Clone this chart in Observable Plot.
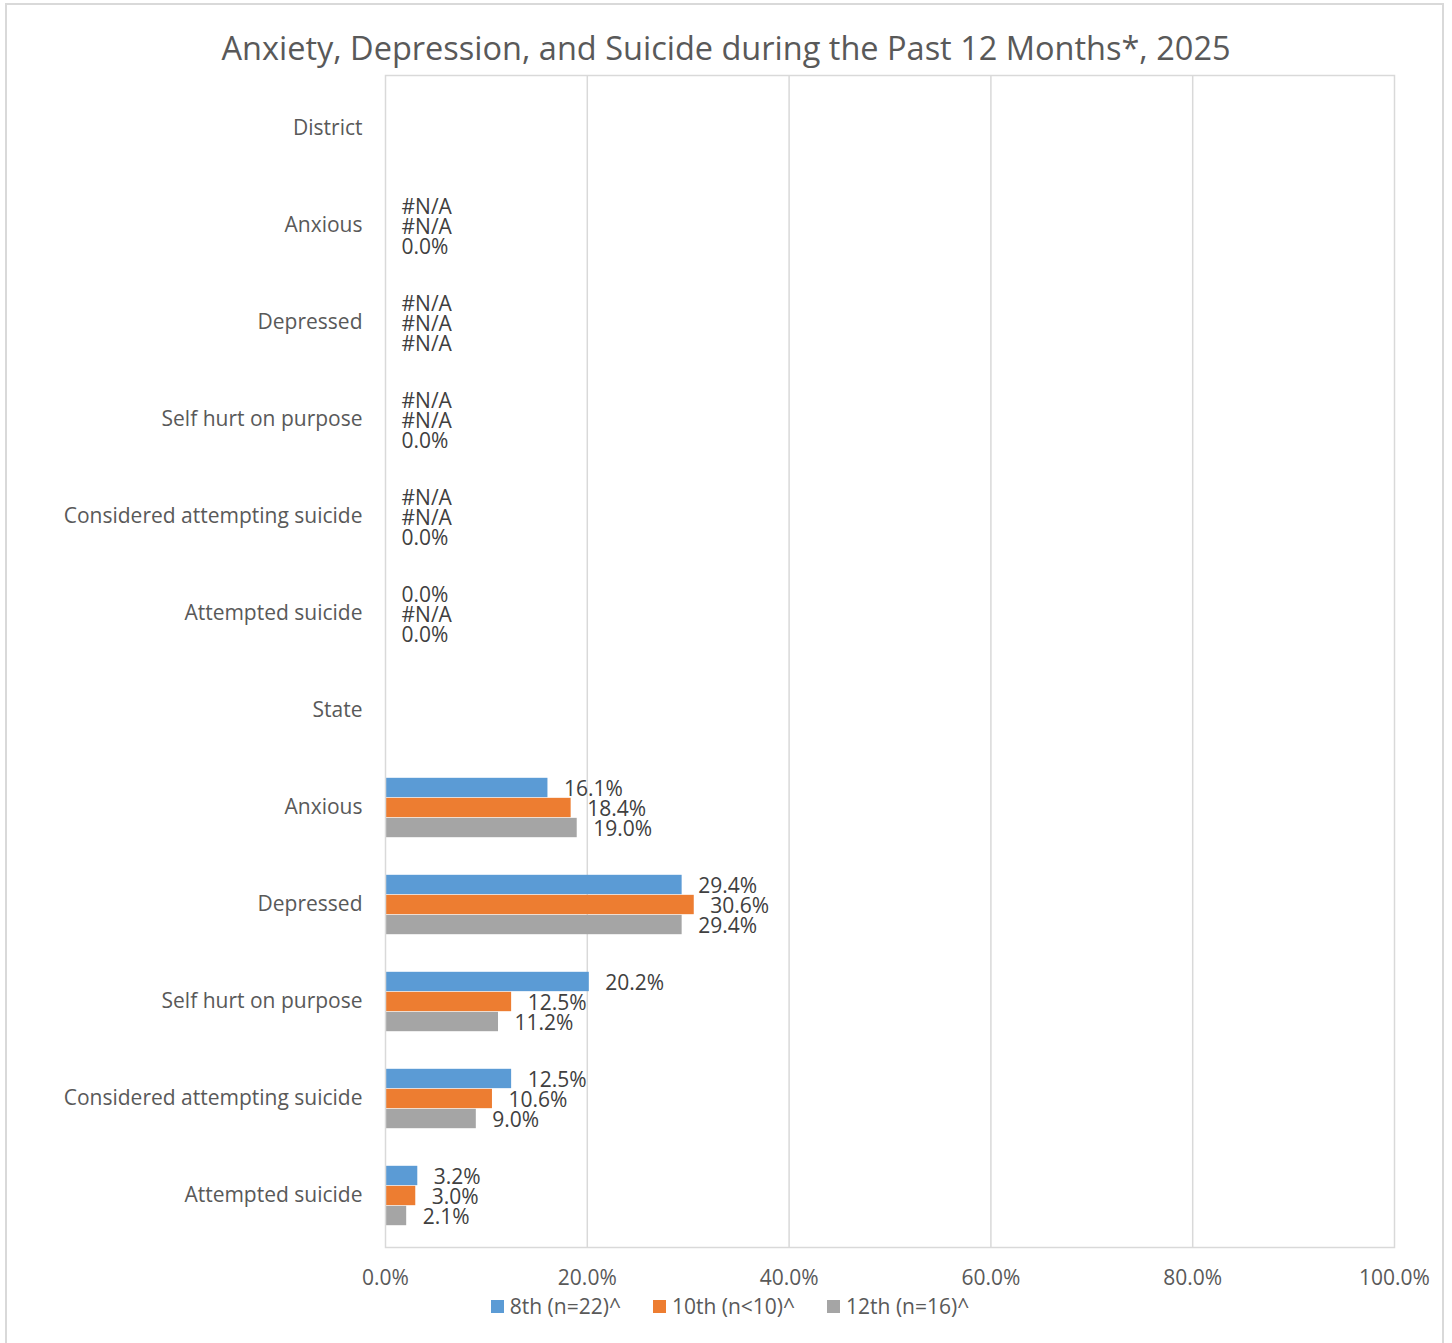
<!DOCTYPE html>
<html>
<head>
<meta charset="utf-8">
<script src="https://cdn.jsdelivr.net/npm/d3@7"></script>
<script src="https://cdn.jsdelivr.net/npm/@observablehq/plot@0.6"></script>
<style>
  html, body { margin: 0; padding: 0; background: #fff; }
  body { width: 1452px; height: 1343px; position: relative; overflow: hidden; font-family: "Open Sans", sans-serif; }
  #border { position: absolute; left: 5px; top: 3px; width: 1439px; height: 1400px; border: 2px solid #d9d9d9; box-sizing: border-box; pointer-events: none; }
  #title { position: relative; height: 62px; }
  #title span { position: absolute; left: 0; right: 0; top: 27px; line-height: 42px; text-align: center; font-size: 32.5px; color: #595959; white-space: nowrap; }
  #legend { height: 28px; display: flex; justify-content: center; align-items: center; gap: 32px; padding-left: 8px; font-size: 21px; color: #595959; }
  .item { display: flex; align-items: center; gap: 6px; }
  .sw { width: 13px; height: 13px; display: inline-block; }
  svg { display: block; }
</style>
</head>
<body>
<div id="border"></div>
<div id="title"><span>Anxiety, Depression, and Suicide during the Past 12 Months*, 2025</span></div>
<div id="chart"></div>
<div id="legend"></div>
<script>
// ---- data ----
const groups = ["District", "State"];
const measures = ["Anxious", "Depressed", "Self hurt on purpose", "Considered attempting suicide", "Attempted suicide"];
const seriesNames = ["8th (n=22)^", "10th (n<10)^", "12th (n=16)^"];
const seriesColors = ["#5b9bd5", "#ed7d31", "#a5a5a5"];
// values in percent; null = #N/A
const district8th  = [null, null, null, null, 0.0];
const district10th = [null, null, null, null, null];
const district12th = [0.0, null, 0.0, 0.0, 0.0];
const state8th  = [16.1, 29.4, 20.2, 12.5, 3.2];
const state10th = [18.4, 30.6, 12.5, 10.6, 3.0];
const state12th = [19.0, 29.4, 11.2, 9.0, 2.1];
const xTicks = [0, 20, 40, 60, 80, 100];

// ---- build table ----
const valuesByGroup = {
  District: [district8th, district10th, district12th],
  State: [state8th, state10th, state12th]
};
const keys = [];
const rows = [];
for (const g of groups) {
  keys.push(g);
  measures.forEach((m, mi) => {
    const key = g + "|" + m;
    keys.push(key);
    seriesNames.forEach((s, si) => {
      const v = valuesByGroup[g][si][mi];
      rows.push({key, series: s, si, value: v});
    });
  });
}

// ---- layout ----
const W = 1452, H = 1230;
const mt = 13, mb = 45, ml = 385, mr = 58;
const bw = (H - mt - mb) / keys.length;
const barH = bw * 0.205;
const gap = (bw - 3 * barH) / 2 + 1;

const marks = [
  Plot.gridX({ticks: [20, 40, 60, 80], stroke: "#d9d9d9", strokeOpacity: 1, strokeWidth: 1.5})
];
seriesNames.forEach((s, si) => {
  const top = gap + si * barH;
  const bottom = bw - top - barH;
  marks.push(Plot.barX(rows.filter(d => d.si === si && d.value != null), {
    y: "key", x: "value", fill: seriesColors[si], insetTop: top, insetBottom: bottom
  }));
  marks.push(Plot.text(rows.filter(d => d.si === si), {
    y: "key", x: d => d.value == null ? 0 : d.value,
    text: d => d.value == null ? "#N/A" : d.value.toFixed(1) + "%",
    textAnchor: "start", dx: 16, dy: (si - 1) * barH + 2.5, fill: "#404040", fontSize: 21
  }));
});
marks.push(Plot.frame({stroke: "#d9d9d9", strokeWidth: 1.5}));
marks.push(Plot.axisY({tickSize: 0, tickPadding: 23, fontSize: 21, fill: "#595959", tickFormat: k => k.split("|").pop()}));
marks.push(Plot.axisX({ticks: xTicks, tickSize: 0, tickPadding: 23, fontSize: 21, fill: "#595959", tickFormat: d => d.toFixed(1) + "%"}));

const chart = Plot.plot({
  width: W, height: H,
  marginTop: mt, marginBottom: mb, marginLeft: ml, marginRight: mr,
  style: {fontFamily: "Open Sans", fontSize: "21px", color: "#595959", background: "transparent"},
  x: {domain: [0, 100], label: null},
  y: {domain: keys, padding: 0, label: null},
  marks
});
document.getElementById("chart").appendChild(chart);

// ---- legend ----
const legend = document.getElementById("legend");
seriesNames.forEach((s, i) => {
  const it = document.createElement("div");
  it.className = "item";
  const sw = document.createElement("span");
  sw.className = "sw";
  sw.style.background = seriesColors[i];
  const t = document.createElement("span");
  t.textContent = s;
  it.appendChild(sw); it.appendChild(t);
  legend.appendChild(it);
});
</script>
</body>
</html>
